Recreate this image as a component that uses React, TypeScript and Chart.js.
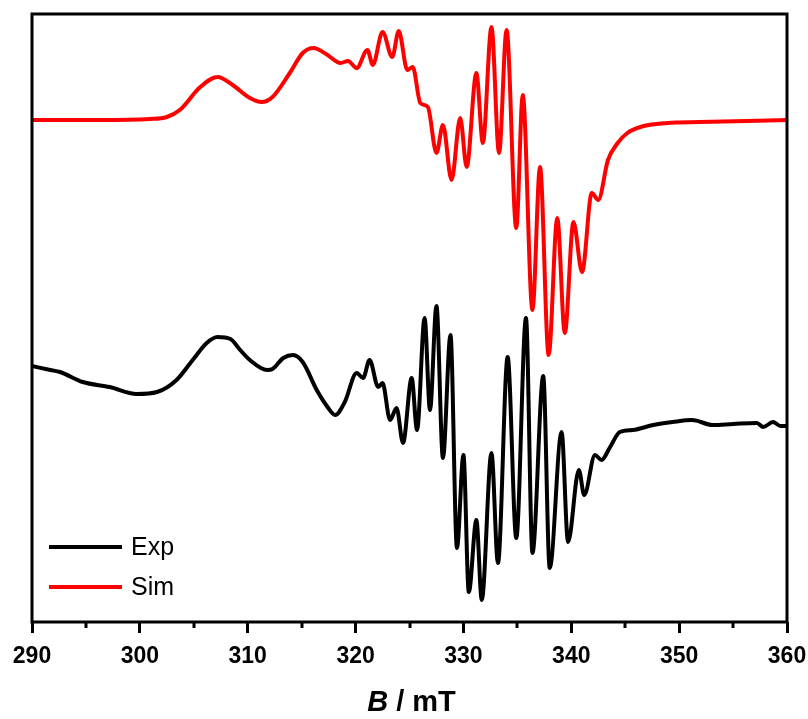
import React, { useEffect, useRef } from "react";
import { Chart, registerables } from "chart.js";

Chart.register(...registerables);

// Magnetic field (mT) and intensity (a.u.)
const expField = [
  290.0, 291.7, 292.6, 294.7, 297.2, 299.7, 301.6, 303.4, 304.9, 306.2, 307.2, 308.4, 309.3, 310.2,
  311.8, 312.3, 313.3, 314.2, 315.1, 316.4, 317.4, 318.1, 319.0, 320.1, 320.7, 321.3, 322.1, 322.5,
  323.2, 323.8, 324.4, 325.2, 325.7, 326.4, 326.9, 327.5, 328.1, 328.8, 329.4, 330.0, 330.5, 331.2,
  331.7, 332.6, 333.2, 334.1, 334.9, 335.8, 336.4, 337.4, 338.0, 339.1, 339.7, 340.7, 341.2, 342.2,
  342.8, 343.6, 344.5, 345.7, 347.6, 349.4, 351.2, 353.1, 355.0, 357.2, 357.8, 358.7, 359.4, 360.0,
];
const expIntensity = [
  256, 252, 250, 240, 235, 228, 230, 242, 262, 279, 285, 283, 272, 262,
  252, 253, 264, 267, 260, 232, 215, 207, 220, 249, 244, 262, 235, 239,
  202, 214, 179, 244, 192, 304, 212, 316, 164, 287, 74, 167, 30, 102,
  22, 169, 59, 265, 84, 304, 69, 246, 54, 190, 80, 152, 127, 167,
  162, 175, 190, 192, 197, 200, 202, 197, 198, 199, 195, 200, 196, 196,
];

const simField = [
  290.0, 296.3, 300.9, 302.5, 303.7, 305.6, 307.2, 308.6, 310.2, 311.3, 312.3, 313.9, 315.1, 316.1,
  317.4, 318.6, 319.3, 320.1, 321.1, 321.6, 322.5, 323.4, 324.0, 324.8, 325.3, 326.0, 326.7, 327.5,
  328.1, 328.9, 329.7, 330.3, 331.2, 331.8, 332.6, 333.3, 334.0, 334.9, 335.5, 336.4, 337.1, 337.9,
  338.7, 339.4, 340.2, 341.0, 341.9, 342.5, 343.4, 344.3, 345.2, 346.4, 348.9, 351.9, 360.0,
];
const simIntensity = [
  502, 502, 503, 505, 512, 535, 545, 537, 524, 520, 525, 549, 569, 574,
  567, 559, 561, 554, 572, 557, 590, 565, 591, 552, 555, 519, 515, 469,
  497, 442, 504, 455, 549, 479, 595, 469, 592, 394, 527, 312, 455, 267,
  404, 289, 400, 350, 429, 422, 462, 479, 489, 495, 499, 500, 502,
];

const seriesNames = ["Exp", "Sim"];
const seriesColors = ["#000000", "#ff0000"];
const majorTicks = [290, 300, 310, 320, 330, 340, 350, 360];
const minorTicks = [295, 305, 315, 325, 335, 345, 355];
const axisTitleSymbol = "B";
const axisTitleUnit = " / mT";

const FONT = '"Liberation Sans", Arial, Helvetica, sans-serif';

const decorPlugin = {
  id: "decor",
  afterDraw(chart: any) {
    const { ctx, chartArea, scales } = chart;
    const { left, top, right, bottom } = chartArea;
    ctx.save();
    // frame
    ctx.strokeStyle = "#000";
    ctx.lineWidth = 3;
    ctx.strokeRect(left, top, right - left, bottom - top);
    // minor ticks
    ctx.lineWidth = 3;
    ctx.beginPath();
    for (const v of minorTicks) {
      const x = Math.round(scales.x.getPixelForValue(v));
      ctx.moveTo(x, bottom);
      ctx.lineTo(x, bottom + 6);
    }
    ctx.stroke();
    // axis title: italic bold B + bold " / mT"
    ctx.fillStyle = "#000";
    ctx.textBaseline = "alphabetic";
    const f1 = `italic bold 29px ${FONT}`;
    const f2 = `bold 29px ${FONT}`;
    ctx.font = f1;
    const w1 = ctx.measureText(axisTitleSymbol).width;
    ctx.font = f2;
    const w2 = ctx.measureText(axisTitleUnit).width;
    const cx = (left + right) / 2 + 2;
    const x0 = cx - (w1 + w2) / 2;
    const baseY = 711;
    ctx.font = f1;
    ctx.textAlign = "left";
    ctx.fillText(axisTitleSymbol, x0, baseY);
    ctx.font = f2;
    ctx.fillText(axisTitleUnit, x0 + w1, baseY);
    // legend
    const ds = chart.data.datasets;
    ds.forEach((d: any, i: number) => {
      const y = 547 + i * 40;
      ctx.strokeStyle = d.borderColor;
      ctx.lineWidth = 4;
      ctx.beginPath();
      ctx.moveTo(left + 17, y);
      ctx.lineTo(left + 90, y);
      ctx.stroke();
      ctx.fillStyle = "#000";
      ctx.font = `25px ${FONT}`;
      ctx.textBaseline = "middle";
      ctx.fillText(d.label, left + 99, y + 1);
    });
    ctx.restore();
  },
};

export default function App() {
  const ref = useRef<HTMLCanvasElement | null>(null);
  useEffect(() => {
    if (!ref.current) return;
    const chart = new Chart(ref.current, {
      type: "line",
      data: {
        datasets: [
          {
            label: seriesNames[0],
            data: expField.map((x, i) => ({ x, y: expIntensity[i] })),
            borderColor: seriesColors[0],
            borderWidth: 4,
            pointRadius: 0,
            cubicInterpolationMode: "monotone",
            fill: false,
          },
          {
            label: seriesNames[1],
            data: simField.map((x, i) => ({ x, y: simIntensity[i] })),
            borderColor: seriesColors[1],
            borderWidth: 4,
            pointRadius: 0,
            cubicInterpolationMode: "monotone",
            fill: false,
          },
        ],
      },
      options: {
        responsive: false,
        animation: false,
        layout: { padding: { left: 32, top: 14, right: 21, bottom: 0 } },
        plugins: { legend: { display: false }, tooltip: { enabled: false } },
        scales: {
          x: {
            type: "linear",
            min: 290,
            max: 360,
            afterFit: (scale: any) => {
              scale.height = 97;
              scale.paddingLeft = 0;
              scale.paddingRight = 0;
            },
            afterBuildTicks: (scale: any) => {
              scale.ticks = majorTicks.map((v) => ({ value: v }));
            },
            ticks: {
              color: "#000",
              font: { family: FONT, size: 23, weight: "bold" },
              padding: 10,
              maxRotation: 0,
            },
            grid: {
              drawOnChartArea: false,
              drawTicks: true,
              tickLength: 11,
              tickWidth: 3,
              tickColor: "#000",
            },
            border: { display: false },
            title: { display: false },
          },
          y: {
            display: false,
            min: 0,
            max: 608,
          },
        },
      },
      plugins: [decorPlugin],
    });
    return () => chart.destroy();
  }, []);
  return (
    <div style={{ position: "absolute", left: 0, top: 0, width: 808, height: 719, background: "#fff" }}>
      <canvas ref={ref} width={808} height={719} />
    </div>
  );
}
